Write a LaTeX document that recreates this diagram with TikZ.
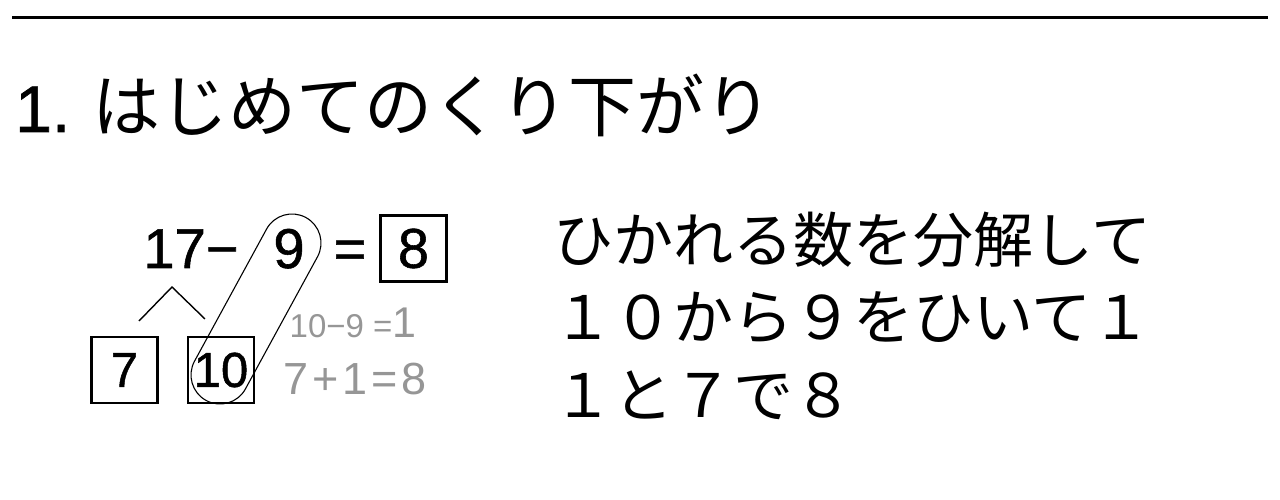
\documentclass[tikz,border=0pt]{standalone}
\usepackage{fontspec}
\setmainfont{Liberation Sans}[FakeBold=1]
\newfontfamily\jpfont{Noto Sans CJK JP}
\newfontfamily\greyfont{Liberation Sans}
\usepackage{xcolor}
\usetikzlibrary{calc,positioning}
\definecolor{calcgray}{RGB}{150,150,150}
\tikzset{
	numbox/.style={draw,line width=2.2pt,inner sep=0pt,minimum width=66pt,minimum height=66pt},
	bignum/.style={inner sep=0pt,anchor=base,font=\fontsize{56}{56}\selectfont},
	jptext/.style={inner sep=0pt,anchor=base west,font=\jpfont\fontsize{60}{60}\selectfont},
	calctext/.style={inner sep=0pt,anchor=base west,text=calcgray}
}

\begin{document}
\begin{tikzpicture}[x=1pt,y=1pt]
	\useasboundingbox (0,0) rectangle (1280,500);
	\draw[line width=3pt] (12,482.5) -- (1268,482.5);
	% title
	\node[anchor=base west,inner sep=0pt] (title) at (15,368) {{\fontsize{66}{66}\selectfont 1.}\hspace{22pt}{\jpfont\fontsize{68}{68}\selectfont はじめてのくり下がり}};
	% 17 - 9 = 8
	\node[bignum] (minuend) at (191,232) {17−};
	\node[bignum] (nine) at (289,232) {9};
	\node[bignum] (equals) at (350,232) {=};
	\node[numbox,font=\fontsize{56}{56}\selectfont] (answer) at (413.5,251.5) {8};
	% 17 -> 7 and 10
	\node[numbox,font=\fontsize{49}{49}\selectfont] (seven) at (124.5,130) {7};
	\node[numbox,font=\fontsize{49}{49}\selectfont] (ten) at (221,130) {10};
	\coordinate (splitL) at (139,179);
	\coordinate (splitT) at (172,213);
	\coordinate (splitR) at (205,181);
	\draw[line width=1.4pt] (splitL) -- (splitT) -- (splitR);
	% loop round 9 and 10
	\coordinate (looptop) at (292,257);
	\coordinate (loopbot) at (220,125);
	\draw[line width=1.1pt] ($(loopbot)+(151.4:29pt)$) -- ($(looptop)+(151.4:29pt)$) arc[start angle=151.4,end angle=-28.6,radius=29pt] -- ($(loopbot)+(-28.6:29pt)$) arc[start angle=-28.6,end angle=-208.6,radius=29pt] -- cycle;
	% grey working
	\node[calctext,font=\greyfont\fontsize{33}{33}\selectfont] (calcA) at (289.5,162) {10−9 ={\fontsize{43}{43}\selectfont 1}};
	\node[calctext,font=\greyfont\fontsize{45}{45}\selectfont] (calcB) at (283,105) {7\hspace{4pt}+\hspace{4pt}1\hspace{4pt}=\hspace{4pt}8};
	% explanation
	\node[jptext] (line1) at (553,237) {ひかれる数を分解して};
	\node[jptext] (line2) at (553,160) {１０から９をひいて１};
	\node[jptext] (line3) at (553,82) {１と７で８};
\end{tikzpicture}
\end{document}
